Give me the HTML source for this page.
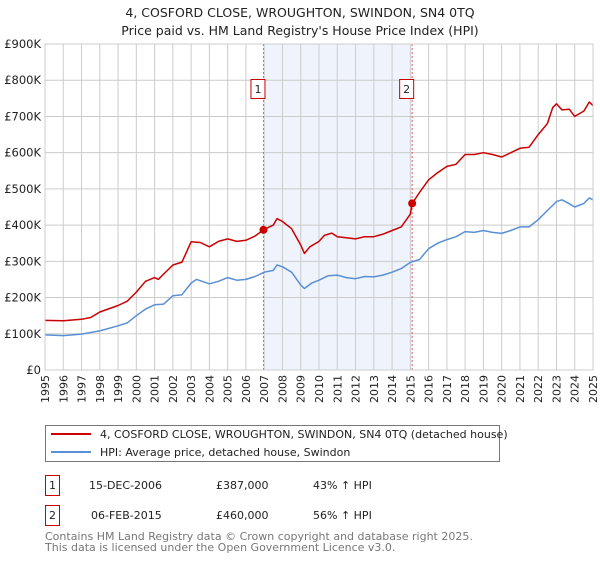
<!DOCTYPE html>
<html><head><meta charset="utf-8"><style>
body{margin:0;background:#fff;font-family:"DejaVu Sans","Liberation Sans",sans-serif;}
svg text{font-family:"DejaVu Sans","Liberation Sans",sans-serif;}
</style></head><body>
<svg id="chart" width="600" height="560" xmlns="http://www.w3.org/2000/svg">
<text x="300" y="17" text-anchor="middle" font-size="12.5" fill="#222">4, COSFORD CLOSE, WROUGHTON, SWINDON, SN4 0TQ</text>
<text x="300" y="35" text-anchor="middle" font-size="12.5" fill="#222">Price paid vs. HM Land Registry's House Price Index (HPI)</text>
<g id="plot"></g>
<g>
<rect x="45.5" y="425.5" width="454" height="36" fill="#fff" stroke="#777"/>
<line x1="51" y1="434" x2="91" y2="434" stroke="#cc0000" stroke-width="2"/>
<text x="100" y="438" font-size="11" fill="#222">4, COSFORD CLOSE, WROUGHTON, SWINDON, SN4 0TQ (detached house)</text>
<line x1="51" y1="452" x2="91" y2="452" stroke="#5b8fd4" stroke-width="2"/>
<text x="100" y="456" font-size="11" fill="#222">HPI: Average price, detached house, Swindon</text>
</g>
<g font-size="11" fill="#222">
<rect x="45.5" y="475.5" width="14" height="20" fill="#fff" stroke="#cc0000"/>
<text x="52.5" y="489" text-anchor="middle">1</text>
<text x="89" y="489">15-DEC-2006</text>
<text x="216" y="489">£387,000</text>
<text x="313" y="489">43% ↑ HPI</text>
<rect x="45.5" y="505.5" width="14" height="20" fill="#fff" stroke="#cc0000"/>
<text x="52.5" y="519" text-anchor="middle">2</text>
<text x="91" y="519">06-FEB-2015</text>
<text x="216" y="519">£460,000</text>
<text x="313" y="519">56% ↑ HPI</text>
</g>
<text x="45" y="540" font-size="11" fill="#777">Contains HM Land Registry data © Crown copyright and database right 2025.</text>
<text x="45" y="551" font-size="11" fill="#777">This data is licensed under the Open Government Licence v3.0.</text>
</svg>
<script>
const redT=[1995,1996,1997,1997.5,1998,1999,1999.5,2000,2000.5,2001,2001.2,2001.5,2002,2002.5,2003,2003.5,2004,2004.5,2005,2005.5,2006,2006.5,2006.96,2007.5,2007.7,2008,2008.5,2009,2009.2,2009.5,2010,2010.3,2010.7,2011,2011.5,2012,2012.5,2013,2013.5,2014,2014.5,2015.0,2015.1,2015.5,2016,2016.5,2017,2017.5,2018,2018.5,2019,2019.5,2020,2020.5,2021,2021.5,2022,2022.5,2022.8,2023,2023.3,2023.7,2024,2024.5,2024.8,2025];
const redV=[137,136,140,145,160,178,190,215,245,255,250,265,290,298,354,352,340,355,362,355,358,370,387,400,418,410,390,345,322,340,355,372,378,368,365,362,368,368,375,385,395,430,460,490,525,545,562,568,595,595,600,595,588,600,612,615,650,680,725,735,718,720,700,715,740,730];
const hpiT=[1995,1996,1997,1998,1999,1999.5,2000,2000.5,2001,2001.5,2002,2002.5,2003,2003.3,2004,2004.5,2005,2005.5,2006,2006.5,2007,2007.5,2007.7,2008,2008.5,2009,2009.2,2009.6,2010,2010.5,2011,2011.5,2012,2012.5,2013,2013.5,2014,2014.5,2015,2015.5,2016,2016.5,2017,2017.5,2018,2018.5,2019,2019.5,2020,2020.5,2021,2021.5,2022,2022.5,2023,2023.3,2023.6,2024,2024.5,2024.8,2025];
const hpiV=[97,95,99,108,122,130,150,168,180,182,205,208,240,250,238,245,255,248,250,258,270,275,290,285,270,235,225,240,248,260,262,255,252,258,257,262,270,280,297,305,335,350,360,368,382,380,385,380,377,385,395,395,415,440,465,470,462,450,460,475,470];
const yTicks=[0,100,200,300,400,500,600,700,800,900];
const yLabels=["£0","£100K","£200K","£300K","£400K","£500K","£600K","£700K","£800K","£900K"];
const years=[1995,1996,1997,1998,1999,2000,2001,2002,2003,2004,2005,2006,2007,2008,2009,2010,2011,2012,2013,2014,2015,2016,2017,2018,2019,2020,2021,2022,2023,2024,2025];
const saleT=[2006.96,2015.1];
const saleV=[387,460];
const saleLabels=["1","2"];
const shadeRange=[2006.96,2015.1];

const L=45,R=593,T=44,B=370;
const X=t=>L+(t-1995)/30*(R-L);
const Y=v=>B-v/900*(B-T);
const NS="http://www.w3.org/2000/svg";
const g=document.getElementById('plot');
function mk(tag,attrs,parent){const e=document.createElementNS(NS,tag);for(const k in attrs)e.setAttribute(k,attrs[k]);(parent||g).appendChild(e);return e;}

const shade=mk('rect',{x:X(shadeRange[0]),y:T,width:X(shadeRange[1])-X(shadeRange[0]),height:B-T,fill:'#eef3fc'});


years.forEach(yr=>{
  const l=mk('line',{x1:X(yr),x2:X(yr),y1:T,y2:B,stroke:'#ccc','stroke-width':1});
  
  
  const tx=mk('text',{transform:`translate(${X(yr)+4},${B+5}) rotate(-90)`,'text-anchor':'end','font-size':11,fill:'#222'});
  
  
  tx.textContent=yr;
});
yTicks.forEach((v,i)=>{
  const l=mk('line',{x1:L,x2:R,y1:Y(v),y2:Y(v),stroke:'#ccc','stroke-width':1});
  
  
  const tx=mk('text',{x:L-4,y:Y(v)+4,'text-anchor':'end','font-size':11.5,fill:'#222'});
  
  
  tx.textContent=yLabels[i];
});
saleT.forEach((t,i)=>{
  const l=mk('line',{x1:X(t),x2:X(t),y1:T,y2:B,stroke:'#e06060','stroke-width':1,'stroke-dasharray':'2,2'});
  
  
});
function path(ts,vs,color,name){
  const d=ts.map((t,i)=>(i?'L':'M')+X(t).toFixed(1)+','+Y(vs[i]).toFixed(1)).join('');
  const p=mk('path',{d,fill:'none',stroke:color,'stroke-width':1.5,'stroke-linejoin':'round'});
  
  
}
path(hpiT,hpiV,'#5b8fd4','hpi-line');
path(redT,redV,'#cc0000','property-price-line');
saleT.forEach((t,i)=>{
  const c=mk('circle',{cx:X(t),cy:Y(saleV[i]),r:4,fill:'#cc0000'});
  
  
  const b=mk('rect',{x:X(t)-12.5,y:79.5,width:14,height:19,fill:'#fff',stroke:'#cc0000'});
  
  
  const tx=mk('text',{x:X(t)-5.5,y:93,'text-anchor':'middle','font-size':11,fill:'#222'});
  
  
  tx.textContent=saleLabels[i];
});
const ax=mk('rect',{x:L,y:T,width:R-L,height:B-T,fill:'none',stroke:'#ccc'});


</script>
</body></html>
